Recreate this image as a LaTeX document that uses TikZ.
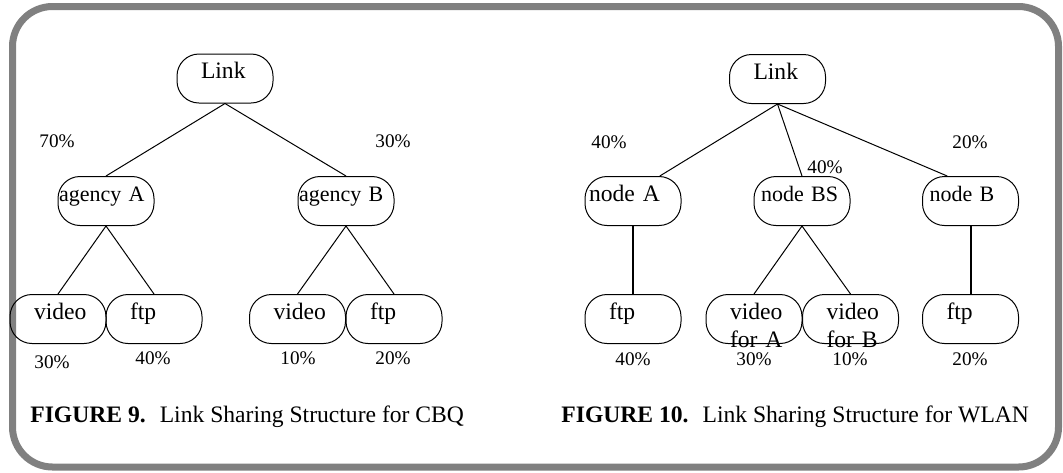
\documentclass[tikz,border=0pt]{standalone}
\usepackage{fontspec}
\setmainfont{Liberation Serif}
\begin{document}
\begin{tikzpicture}[x=0.5pt,y=-0.5pt,
	pill/.style={draw,line width=0.5pt,rounded corners=11pt,minimum width=48pt,minimum height=24.5pt,inner sep=0pt,text width=24pt,align=left,text height=4.5pt,text depth=4.5pt,font=\fontsize{11.8}{14}\selectfont},
	narrow/.style={font=\fontsize{11}{14}\selectfont},
	pct/.style={inner sep=0pt,font=\fontsize{9.6}{11}\selectfont},
	figcaption/.style={anchor=base west,inner sep=0pt,font=\fontsize{11.8}{14}\selectfont},
	edge/.style={line width=0.5pt},
	stem/.style={line width=1pt}]
			\useasboundingbox (0,0) rectangle (1063,472);
			\draw[gray,line width=3.5pt,rounded corners=20pt] (12.5,6.5) rectangle (1058.5,467);
			% CBQ tree
			\node[pill] (l1) at (225,78.5) {Link};
			\node[pill,narrow,text width=47pt] (ga) at (106,201) {\mbox{agency A}};
			\node[pill,narrow,text width=47pt] (gb) at (346,201) {\mbox{agency B}};
			\node[pill] (va) at (58,319) {video};
			\node[pill] (fa) at (154,319) {ftp};
			\node[pill] (vb) at (297.5,319) {video};
			\node[pill] (fb) at (394,319) {ftp};
			\draw[edge] (l1.south)--(ga.north);
			\draw[edge] (l1.south)--(gb.north);
			\draw[edge] (ga.south)--(va.north);
			\draw[edge] (ga.south)--(fa.north);
			\draw[edge] (gb.south)--(vb.north);
			\draw[edge] (gb.south)--(fb.north);
			\node[pct] (q1) at (57,141) {70\%};
			\node[pct] (q2) at (393,141) {30\%};
			\node[pct] (q3) at (52,362) {30\%};
			\node[pct] (q4) at (153,358) {40\%};
			\node[pct] (q5) at (298,358) {10\%};
			\node[pct] (q6) at (393,358) {20\%};
			\node[figcaption] (c1) at (30,422) {\textbf{FIGURE 9.}\hspace{7pt}Link Sharing Structure for CBQ};
			% WLAN tree
			\node[pill] (l2) at (777.5,79) {Link};
			\node[pill,text width=44pt] (na) at (633,201) {\mbox{node A}};
			\node[pill,narrow,text width=41pt] (ns) at (802,201) {\mbox{node BS}};
			\node[pill,narrow,text width=41pt] (nb) at (970.5,201) {\mbox{node B}};
			\node[pill] (fc) at (633,319) {ftp};
			\node[pill] (vc) at (754,319) {video\\\mbox{for A}};
			\node[pill] (vd) at (850.5,319) {video\\\mbox{for B}};
			\node[pill] (fd) at (970.5,319) {ftp};
			\draw[edge] (l2.south)--(na.43);
			\draw[edge] (l2.south)--(ns.north);
			\draw[edge] (l2.south)--(nb.133);
			\draw[stem] (na.south)--(fc.north);
			\draw[edge] (ns.south)--(vc.north);
			\draw[edge] (ns.south)--(vd.north);
			\draw[stem] (nb.south)--(fd.north);
			\node[pct] (r1) at (609,142) {40\%};
			\node[pct] (r2) at (825,167) {40\%};
			\node[pct] (r3) at (970,142) {20\%};
			\node[pct] (r4) at (633,359) {40\%};
			\node[pct] (r5) at (754,359) {30\%};
			\node[pct] (r6) at (850,359) {10\%};
			\node[pct] (r7) at (970,359) {20\%};
			\node[figcaption] (c2) at (561,422) {\textbf{FIGURE 10.}\hspace{7pt}Link Sharing Structure for WLAN};
		\end{tikzpicture}
\end{document}
